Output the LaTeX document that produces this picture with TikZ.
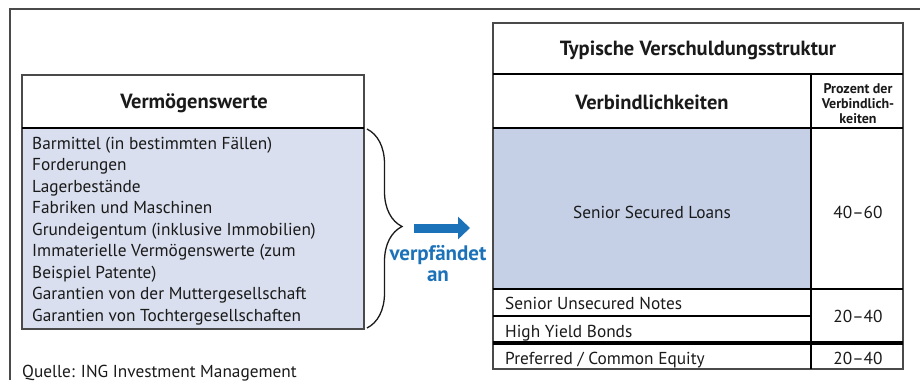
\documentclass[tikz,border=0pt]{standalone}
\usepackage{fontspec}
\setmainfont{PT Sans}
\usetikzlibrary{decorations.pathreplacing,arrows.meta}
\definecolor{ink}{HTML}{1A1A1A}
\definecolor{frame}{HTML}{4A4A4A}
\definecolor{assetfill}{HTML}{D9DFEE}
\definecolor{loanfill}{HTML}{C5D0E7}
\definecolor{pledge}{HTML}{1C72B8}
\begin{document}
\begin{tikzpicture}[x=1pt,y=-1pt,
  outline/.style={draw=frame,line width=1.8pt},
  rule/.style={draw=black,line width=2.6pt},
  thinrule/.style={draw=black,line width=2pt},
  body/.style={text=ink,font=\fontsize{17.3}{20}\selectfont,inner sep=0pt},
  head/.style={text=ink,font=\fontsize{20.5}{24}\selectfont\bfseries,inner sep=0pt},
  small/.style={text=ink,font=\fontsize{14}{15}\selectfont\bfseries,inner sep=0pt,align=center},
  blue/.style={text=pledge,font=\fontsize{21}{24}\selectfont\bfseries,inner sep=0pt}]
\useasboundingbox (0,0) rectangle (920,380);

% page frame, open to the right and below
\draw[frame,line width=1.8pt] (10,380) -- (10,9) -- (920,9);

% ---------- assets box ----------
\fill[assetfill] (22,128) rectangle (364,329);
\draw[outline] (22,75) rectangle (364,329);
\draw[rule] (22,128) -- (364,128);
\node[head,anchor=base] (assethead) at (194,108) {Vermögenswerte};
\node[body,anchor=base west] (a1) at (32,149) {Barmittel (in bestimmten Fällen)};
\node[body,anchor=base west] (a2) at (32,170.5) {Forderungen};
\node[body,anchor=base west] (a3) at (32,192) {Lagerbestände};
\node[body,anchor=base west] (a4) at (32,213.5) {Fabriken und Maschinen};
\node[body,anchor=base west] (a5) at (32,235) {Grundeigentum (inklusive Immobilien)};
\node[body,anchor=base west] (a6) at (32,256.5) {Immaterielle Vermögenswerte (zum};
\node[body,anchor=base west] (a7) at (32,278) {Beispiel Patente)};
\node[body,anchor=base west] (a8) at (32,299.5) {Garantien von der Muttergesellschaft};
\node[body,anchor=base west] (a9) at (32,321) {Garantien von Tochtergesellschaften};

% brace grouping the assets
\coordinate (btop) at (367,129);
\coordinate (bbot) at (367,328);
\draw[ink,line width=1.3pt,decorate,decoration={brace,amplitude=35pt,aspect=0.49}] (btop) -- (bbot);

% pledge arrow
\coordinate (arrfrom) at (414,228);
\coordinate (arrto) at (470,228);
\draw[pledge,line width=9pt,-{Triangle[length=12pt,width=22pt]}] (arrfrom) -- (arrto);
\node[blue,anchor=base] (pl1) at (438,260) {verpfändet};
\node[blue,anchor=base] (pl2) at (438,281) {an};

% ---------- debt structure table ----------
\fill[loanfill] (493,128) rectangle (811,289);
\draw[outline] (493,23) rectangle (903,369);
\draw[rule] (493,74) -- (903,74);
\draw[rule] (493,128) -- (903,128);
\draw[rule] (811,74) -- (811,369);
\draw[rule] (493,289) -- (903,289);
\draw[thinrule] (493,316) -- (811,316);
\draw[draw=black,line width=3.2pt] (493,343) -- (903,343);

\node[head,anchor=base] (title) at (698,55) {Typische Verschuldungsstruktur};
\node[head,anchor=base] (liab) at (652,109) {Verbindlichkeiten};
\node[small] (pct) at (858,104) {Prozent der\\Verbindlich-\\keiten};

\node[body,anchor=base] (ssl) at (652,218) {Senior Secured Loans};
\node[body,anchor=base] (p1) at (858,218) {40–60};
\node[body,anchor=base west] (sun) at (505,309) {Senior Unsecured Notes};
\node[body,anchor=base west] (hyb) at (505,337) {High Yield Bonds};
\node[body,anchor=base] (p2) at (858,322) {20–40};
\node[body,anchor=base west] (eq) at (505,364) {Preferred / Common Equity};
\node[body,anchor=base] (p3) at (858,364) {20–40};

% source line
\node[body,anchor=base west] (src) at (22,377) {Quelle: ING Investment Management};
\end{tikzpicture}
\end{document}
